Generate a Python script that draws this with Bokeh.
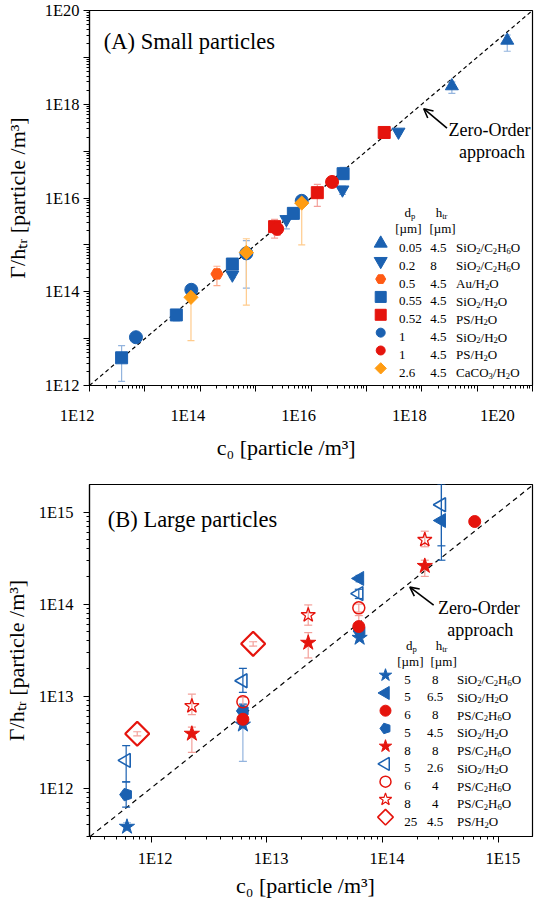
import math
from bokeh.plotting import figure
from bokeh.layouts import column
from bokeh.models import (ColumnDataSource, FixedTicker, CustomJSTickFormatter,
                          Label, Arrow, OpenHead, Range1d)
from bokeh.embed import file_html
from bokeh.resources import INLINE

FONT = "Liberation Serif"
BLUE = "#1b61b1"
RED = "#e5140d"
AU = "#ff5a14"
CACO = "#ff9c12"
LBLUE = "#93b4de"
LRED = "#f3a09a"
LAU = "#ffab8a"
LORANGE = "#ffcb8c"
NBSP = "\u00a0"

# ---------------- Panel A : small particles (c0, Gamma/h_tr, error low, error high) ----------------
a_up_x = [3.5e18, 3.5e19]
a_up_y = [2.45e18, 2.3e19]
a_up_lo = [1.7e18, 1.35e19]
a_up_hi = [3.0e18, 3.0e19]

a_down_x = [3.8e14, 3.6e15, 3.7e16, 3.8e17]
a_down_y = [2.3e14, 3.5e15, 1.5e16, 2.57e17]
a_down_lo = [2.0e14, 2.2e15, 1.2e16, 2.3e17]
a_down_hi = [2.6e14, 4.2e15, 1.8e16, 2.9e17]

a_hex_x = [2.0e14]
a_hex_y = [2.4e14]
a_hex_lo = [1.35e14]
a_hex_hi = [3.5e14]

a_sqb_x = [3.8e12, 3.7e13, 3.8e14, 4.8e15, 3.8e16]
a_sqb_y = [3.9e12, 3.2e13, 3.9e14, 4.7e15, 3.3e16]
a_sqb_lo = [1.23e12, 2.4e13, 3.2e14, 3.6e15, 2.5e16]
a_sqb_hi = [7.1e12, 3.7e13, 4.7e14, 6.0e15, 4.5e16]

a_sqr_x = [2.2e15, 1.3e16, 2.1e17]
a_sqr_y = [2.45e15, 1.3e16, 2.5e17]
a_sqr_lo = [1.4e15, 6.6e15, 2.2e17]
a_sqr_hi = [3.5e15, 1.95e16, 2.8e17]

a_cb_x = [6.9e12, 6.9e13, 6.8e14, 6.8e15]
a_cb_y = [1.07e13, 1.1e14, 6.6e14, 8.7e15]
a_cb_lo = [9.0e12, 9.0e13, 1.2e14, 7.5e15]
a_cb_hi = [1.2e13, 1.3e14, 1.23e15, 1.0e16]

a_cr_x = [2.45e15, 2.4e16]
a_cr_y = [2.2e15, 2.2e16]
a_cr_lo = [1.6e15, 1.8e16]
a_cr_hi = [2.6e15, 2.6e16]

a_dia_x = [6.8e13, 6.8e14, 6.8e15]
a_dia_y = [7.6e13, 6.9e14, 7.8e15]
a_dia_lo = [9.1e12, 5.2e13, 1.0e15]
a_dia_hi = [1.0e14, 1.35e15, 9.1e15]

leg_a_dp = ["0.05", "0.2", "0.5", "0.55", "0.52", "1", "1", "2.6"]
leg_a_h = ["4.5", "8", "4.5", "4.5", "4.5", "4.5", "4.5", "4.5"]
leg_a_mat = ["SiO_2/C_2H_6O", "SiO_2/C_2H_6O", "Au/H_2O", "SiO_2/H_2O",
             "PS/H_2O", "SiO_2/H_2O", "PS/H_2O", "CaCO_3/H_2O"]

# ---------------- Panel B : large particles ----------------
b_star_x = [6.2e11, 6.2e12, 6.3e13]
b_star_y = [3.8e11, 4.9e12, 4.3e13]
b_star_lo = [3.5e11, 1.95e12, 4.0e13]
b_star_hi = [4.2e11, 5.5e12, 4.7e13]

b_tril_x = [6.3e13, 3.2e14]
b_tril_y = [1.9e14, 8.1e14]
b_tril_lo = [1.75e14, 3.0e14]
b_tril_hi = [2.05e14, 2.0e15]

b_circ_x = [6.2e12, 6.2e13, 6.2e14]
b_circ_y = [5.6e12, 5.7e13, 7.9e14]
b_circ_lo = [4.6e12, 4.9e13, 7.5e14]
b_circ_hi = [6.8e12, 7.5e13, 8.3e14]

b_pent_x = [6.1e11, 6.2e12, 6.3e13]
b_pent_y = [8.5e11, 6.9e12, 5.1e13]
b_pent_lo = [6.2e11, 5.8e12, 4.6e13]
b_pent_hi = [1.17e12, 8.2e12, 5.6e13]

b_strr_x = [2.25e12, 2.27e13, 2.3e14]
b_strr_y = [3.9e12, 3.8e13, 2.6e14]
b_strr_lo = [2.45e12, 2.6e13, 2.0e14]
b_strr_hi = [4.6e12, 4.9e13, 3.0e14]

b_trio_x = [6.1e11, 6.2e12, 6.2e13, 3.2e14]
b_trio_y = [2.0e12, 1.47e13, 1.3e14, 1.2e15]
b_trio_lo = [1.17e12, 1.1e13, 1.15e14, 4.3e14]
b_trio_hi = [2.9e12, 2.0e13, 1.45e14, 2.5e15]

b_circo_x = [6.2e12, 6.2e13]
b_circo_y = [8.7e12, 9.1e13]
b_circo_lo = [7.8e12, 8.2e13]
b_circo_hi = [9.7e12, 1.0e14]

b_stro_x = [2.25e12, 2.27e13, 2.3e14]
b_stro_y = [7.8e12, 7.6e13, 5.0e14]
b_stro_lo = [6.3e12, 5.9e13, 4.2e14]
b_stro_hi = [1.05e13, 9.8e13, 6.2e14]

b_diao_x = [7.6e11, 7.6e12]
b_diao_y = [3.9e12, 3.7e13]
b_diao_lo = [3.7e12, 3.5e13]
b_diao_hi = [4.1e12, 3.9e13]

leg_b_dp = ["5", "5", "6", "5", "8", "5", "6", "8", "25"]
leg_b_h = ["8", "6.5", "8", "4.5", "8", "2.6", "4", "4", "4.5"]
leg_b_mat = ["SiO_2/C_2H_6O", "SiO_2/H_2O", "PS/C_2H_6O", "SiO_2/H_2O", "PS/C_2H_6O",
             "SiO_2/H_2O", "PS/C_2H_6O", "PS/C_2H_6O", "PS/H_2O"]

x_title = "c\u2080 [particle /m\u00b3]"
y_title = "\u0393/h\u209c\u1d63 [particle /m\u00b3]"

# ---------------- layout (page pixel geometry of the two frames) ----------------
FA = dict(left=92, right=540, top=18, bottom=394, xlo=12.0, xhi=20.0, ylo=12.0, yhi=20.0)
FB = dict(left=94, right=540, top=492, bottom=851, xlo=11.469, xhi=15.291, ylo=11.474, yhi=15.30)


def to_data(fr, px, py):
    lx = fr["xlo"] + (px - fr["left"]) / (fr["right"] - fr["left"]) * (fr["xhi"] - fr["xlo"])
    ly = fr["ylo"] + (fr["bottom"] - py) / (fr["bottom"] - fr["top"]) * (fr["yhi"] - fr["ylo"])
    return 10 ** lx, 10 ** ly


W = {' ': 250, '(': 333, ')': 333, '[': 333, ']': 333, '/': 278, '-': 333, '.': 250,
     'A': 722, 'B': 667, 'C': 667, 'D': 722, 'E': 611, 'H': 722, 'L': 611, 'O': 722,
     'P': 556, 'S': 556, 'Z': 611, 'G': 722, 'a': 444, 'c': 444, 'd': 500, 'e': 444,
     'g': 500, 'h': 500, 'i': 278, 'l': 278, 'm': 778, 'n': 500, 'o': 500, 'p': 500,
     'r': 333, 's': 389, 't': 278, 'u': 500, '\u0393': 578, '\u00b5': 500}


def tw(s, size):
    return sum(W.get(ch, 500) for ch in s) / 1000.0 * size


def parse(s):
    segs, buf, i = [], "", 0
    while i < len(s):
        c = s[i]
        if c in "_^":
            if buf:
                segs.append((buf, "n"))
                buf = ""
            kind = "sub" if c == "_" else "sup"
            if s[i + 1] == "{":
                j = s.index("}", i)
                segs.append((s[i + 2:j], kind))
                i = j + 1
            else:
                segs.append((s[i + 1], kind))
                i += 2
        else:
            buf += c
            i += 1
    if buf:
        segs.append((buf, "n"))
    return segs


def rich(p, fr, px, py, s, size, align="left"):
    segs = parse(s)
    sizes = [size * (0.66 if k != "n" else 1.0) for _, k in segs]
    widths = [tw(t, fs) for (t, _), fs in zip(segs, sizes)]
    total = sum(widths)
    off = 0.0 if align == "left" else (-total / 2 if align == "center" else -total)
    x, y = to_data(fr, px, py)
    for (t, k), fs, w in zip(segs, sizes, widths):
        lead = len(t) - len(t.lstrip(" "))
        txt = t.strip(" ")
        pos = off + tw(" " * lead, fs)
        shift = {"n": 0.0, "sub": -0.24 * size, "sup": 0.36 * size}[k]
        if txt:
            p.add_layout(Label(x=x, y=y, x_offset=pos, y_offset=shift, text=txt,
                               text_font=FONT, text_font_size=f"{fs:.1f}px",
                               text_align="left", text_baseline="alphabetic",
                               text_color="black"))
        off += w


def make_fig(fr, width, height, top_border, xr, yr):
    p = figure(width=width, height=height, x_axis_type="log", y_axis_type="log",
               x_range=Range1d(*xr), y_range=Range1d(*yr),
               output_backend="svg", toolbar_location=None,
               min_border_left=fr["left"] - 8, min_border_right=8 + width - fr["right"],
               min_border_top=top_border,
               min_border_bottom=height - top_border - (fr["bottom"] - fr["top"]))
    p.grid.visible = False
    p.outline_line_color = "black"
    p.outline_line_width = 1.2
    p.outline_line_alpha = 1.0
    p.background_fill_color = "white"
    p.border_fill_color = "white"
    for ax in (p.xaxis[0], p.yaxis[0]):
        ax.axis_line_color = "black"
        ax.axis_line_width = 1.2
        ax.major_tick_line_color = "black"
        ax.minor_tick_line_color = "black"
        ax.major_tick_in = 0
        ax.major_tick_out = 6
        ax.minor_tick_in = 0
        ax.minor_tick_out = 3
        ax.major_label_text_font = FONT
        ax.major_label_text_font_size = "16.5px"
        ax.major_label_text_color = "black"
        ax.axis_label_text_font = FONT
        ax.axis_label_text_font_size = "22px"
        ax.axis_label_text_font_style = "normal"
        ax.axis_label_text_color = "black"
    return p


def ticks(e0, e1, lo, hi):
    major = [10.0 ** e for e in range(e0, e1 + 1)]
    minor = [k * 10.0 ** e for e in range(e0 - 1, e1 + 1) for k in range(2, 10)
             if lo <= k * 10.0 ** e <= hi]
    return FixedTicker(ticks=major, minor_ticks=minor)


def errorbars(p, x, lo, hi, color, alpha, cap=7, lw=1.2):
    src = ColumnDataSource(dict(x=x, lo=lo, hi=hi))
    p.segment(x0="x", y0="lo", x1="x", y1="hi", source=src, line_color=color,
              line_alpha=alpha, line_width=lw)
    p.scatter(x="x", y="lo", source=src, marker="dash", size=cap, line_color=color,
              line_alpha=alpha, line_width=lw)
    p.scatter(x="x", y="hi", source=src, marker="dash", size=cap, line_color=color,
              line_alpha=alpha, line_width=lw)


def markers(p, x, y, marker, size, color, fill, lw=1.0, angle=0.0):
    src = ColumnDataSource(dict(x=x, y=y))
    if marker == "pentagon":
        if hasattr(p, "ngon"):
            p.ngon(x="x", y="y", source=src, radius=size / 2.0, radius_units="screen", n=5,
                   angle=math.pi / 2, fill_color=fill, line_color=color, line_width=lw)
        else:
            p.scatter(x="x", y="y", source=src, marker="hex", size=size, fill_color=fill,
                      line_color=color, line_width=lw)
        return
    p.scatter(x="x", y="y", source=src, marker=marker, size=size, fill_color=fill,
              line_color=color, line_width=lw, angle=angle)


# ====================== Panel A ======================
pA = make_fig(FA, 539, 462, 10, (1e12, 1e20), (1e12, 1e20))
pA.xaxis[0].ticker = ticks(12, 20, 1e12, 1e20)
pA.yaxis[0].ticker = ticks(12, 20, 1e12, 1e20)
pA.xaxis[0].formatter = CustomJSTickFormatter(
    code="const e = Math.round(Math.log10(tick)); "
         "return (e % 2 == 0) ? '1E' + e + '\\u00a0'.repeat(6) : '';")
pA.yaxis[0].formatter = CustomJSTickFormatter(
    code="const e = Math.round(Math.log10(tick)); return (e % 2 == 0) ? '1E' + e : '';")
pA.xaxis[0].major_label_standoff = 14
pA.yaxis[0].major_label_standoff = 4
pA.xaxis[0].axis_label = x_title + NBSP * 9
pA.xaxis[0].axis_label_standoff = 7
pA.yaxis[0].axis_label = y_title
pA.yaxis[0].axis_label_standoff = 12

pA.line([1e12, 1e20], [1e12, 1e20], line_color="black", line_dash="4 3", line_width=1.2)

seriesA = [
    (a_up_x, a_up_y, a_up_lo, a_up_hi, "triangle", 13, BLUE, BLUE, LBLUE, 0.0),
    (a_down_x, a_down_y, a_down_lo, a_down_hi, "inverted_triangle", 13, BLUE, BLUE, LBLUE, 0.0),
    (a_sqb_x, a_sqb_y, a_sqb_lo, a_sqb_hi, "square", 12, BLUE, BLUE, LBLUE, 0.0),
    (a_hex_x, a_hex_y, a_hex_lo, a_hex_hi, "hex", 12, AU, AU, LAU, 0.0),
    (a_sqr_x, a_sqr_y, a_sqr_lo, a_sqr_hi, "square", 12, RED, RED, LRED, 0.0),
    (a_cb_x, a_cb_y, a_cb_lo, a_cb_hi, "circle", 13, BLUE, BLUE, LBLUE, 0.0),
    (a_cr_x, a_cr_y, a_cr_lo, a_cr_hi, "circle", 13, RED, RED, LRED, 0.0),
    (a_dia_x, a_dia_y, a_dia_lo, a_dia_hi, "square", 10, CACO, CACO, LORANGE, math.pi / 4),
]
for x, y, lo, hi, m, s, c, f, ec, ang in seriesA:
    errorbars(pA, x, lo, hi, ec, 1.0)
for x, y, lo, hi, m, s, c, f, ec, ang in seriesA:
    markers(pA, x, y, m, s, c, f, 1.0, ang)

rich(pA, FA, 106.5, 49, "(A) Small particles", 22.5)
rich(pA, FA, 496.5, 137.5, "Zero-Order", 18, "center")
rich(pA, FA, 499, 160, "approach", 18, "center")
x0, y0 = to_data(FA, 453.5, 136)
x1, y1 = to_data(FA, 430, 116.5)
pA.add_layout(Arrow(end=OpenHead(size=9, line_width=1.6, line_color="black"),
                    x_start=x0, y_start=y0, x_end=x1, y_end=y1,
                    line_width=1.6, line_color="black"))

# legend A
rich(pA, FA, 416, 220.5, "d_p", 13, "center")
rich(pA, FA, 448, 220.5, "h_{tr}", 13, "center")
rich(pA, FA, 414, 237, "[\u00b5m]", 13, "center")
rich(pA, FA, 448.5, 237, "[\u00b5m]", 13, "center")
legA_markers = [("triangle", 13, BLUE, 0.0), ("inverted_triangle", 13, BLUE, 0.0),
                ("hex", 10, AU, 0.0), ("square", 11, BLUE, 0.0), ("square", 11, RED, 0.0),
                ("circle", 9, BLUE, 0.0), ("circle", 9, RED, 0.0), ("square", 8, CACO, math.pi / 4)]
for i, (m, s, c, ang) in enumerate(legA_markers):
    cy = 251.5 + 17.9 * i
    mx, my = to_data(FA, 386.5, cy)
    markers(pA, [mx], [my], m, s, c, c, 1.0, ang)
    rich(pA, FA, 405, cy + 4.5, leg_a_dp[i], 13)
    rich(pA, FA, 436.7, cy + 4.5, leg_a_h[i], 13)
    rich(pA, FA, 462.7, cy + 4.5, leg_a_mat[i], 13)

# ====================== Panel B ======================
pB = make_fig(FB, 539, 438, 22, (10 ** FB["xlo"], 10 ** FB["xhi"]), (10 ** FB["ylo"], 10 ** FB["yhi"]))
pB.xaxis[0].ticker = ticks(12, 15, 10 ** FB["xlo"], 10 ** FB["xhi"])
pB.yaxis[0].ticker = ticks(12, 15, 10 ** FB["ylo"], 10 ** FB["yhi"])
pB.xaxis[0].formatter = CustomJSTickFormatter(
    code="return '\\u00a0'.repeat(2) + '1E' + Math.round(Math.log10(tick));")
pB.yaxis[0].formatter = CustomJSTickFormatter(
    code="return '1E' + Math.round(Math.log10(tick));")
pB.xaxis[0].major_label_standoff = 6
pB.yaxis[0].major_label_standoff = 10
pB.xaxis[0].axis_label = x_title + NBSP * 2
pB.xaxis[0].axis_label_standoff = 2
pB.yaxis[0].axis_label = y_title
pB.yaxis[0].axis_label_standoff = 7

dlo, dhi = 10 ** FB["ylo"], 10 ** FB["yhi"]
pB.line([dlo, dhi], [dlo, dhi], line_color="black", line_dash="5 4", line_width=1.2)

seriesB = [
    (b_star_x, b_star_y, b_star_lo, b_star_hi, "star", 16, BLUE, BLUE, 1.0, 0.0, LBLUE),
    (b_tril_x, b_tril_y, b_tril_lo, b_tril_hi, "triangle", 14, BLUE, BLUE, 1.0, math.pi / 2, BLUE),
    (b_pent_x, b_pent_y, b_pent_lo, b_pent_hi, "pentagon", 13, BLUE, BLUE, 1.0, 0.0, BLUE),
    (b_circ_x, b_circ_y, b_circ_lo, b_circ_hi, "circle", 12, RED, RED, 1.0, 0.0, LRED),
    (b_strr_x, b_strr_y, b_strr_lo, b_strr_hi, "star", 16, RED, RED, 1.0, 0.0, LRED),
    (b_trio_x, b_trio_y, b_trio_lo, b_trio_hi, "triangle", 14, BLUE, None, 1.6, math.pi / 2, BLUE),
    (b_circo_x, b_circo_y, b_circo_lo, b_circo_hi, "circle", 12, RED, None, 1.5, 0.0, LRED),
    (b_stro_x, b_stro_y, b_stro_lo, b_stro_hi, "star", 15, RED, None, 1.3, 0.0, LRED),
    (b_diao_x, b_diao_y, b_diao_lo, b_diao_hi, "square", 17, RED, None, 2.2, math.pi / 4, LRED),
]
for x, y, lo, hi, m, s, c, f, lw, ang, ec in seriesB:
    errorbars(pB, x, lo, hi, ec, 1.0, cap=8)
for x, y, lo, hi, m, s, c, f, lw, ang, ec in seriesB:
    markers(pB, x, y, m, s, c, f, lw, ang)

rich(pB, FB, 112.4, 527.5, "(B) Large particles", 22.5)
rich(pB, FB, 486, 618.3, "Zero-Order", 18, "center")
rich(pB, FB, 487.3, 640, "approach", 18, "center")
x0, y0 = to_data(FB, 440.5, 615)
x1, y1 = to_data(FB, 416.5, 596.7)
pB.add_layout(Arrow(end=OpenHead(size=9, line_width=1.6, line_color="black"),
                    x_start=x0, y_start=y0, x_end=x1, y_end=y1,
                    line_width=1.6, line_color="black"))

rich(pB, FB, 418, 656.5, "d_p", 13, "center")
rich(pB, FB, 448.4, 656.5, "h_{tr}", 13, "center")
rich(pB, FB, 416.5, 672.5, "[\u00b5m]", 13, "center")
rich(pB, FB, 450, 672.5, "[\u00b5m]", 13, "center")
legB_markers = [("star", 13, BLUE, BLUE, 1.0, 0.0), ("triangle", 13, BLUE, BLUE, 1.0, math.pi / 2),
                ("circle", 11, RED, RED, 1.0, 0.0), ("pentagon", 11, BLUE, BLUE, 1.0, 0.0),
                ("star", 13, RED, RED, 1.0, 0.0), ("triangle", 13, BLUE, None, 1.5, math.pi / 2),
                ("circle", 11, RED, None, 1.5, 0.0), ("star", 13, RED, None, 1.2, 0.0),
                ("square", 11, RED, None, 1.6, math.pi / 4)]
for i, (m, s, c, f, lw, ang) in enumerate(legB_markers):
    cy = 686.5 + 18.1 * i
    mx, my = to_data(FB, 392, cy)
    markers(pB, [mx], [my], m, s, c, f, lw, ang)
    rich(pB, FB, 411, cy + 4.5, leg_b_dp[i], 13)
    rich(pB, FB, 442, cy + 4.5, leg_b_h[i], 13, "center")
    rich(pB, FB, 464, cy + 4.5, leg_b_mat[i], 13)

layout = column(pA, pB, spacing=0)
open("out.html", "w").write(file_html(layout, INLINE))
